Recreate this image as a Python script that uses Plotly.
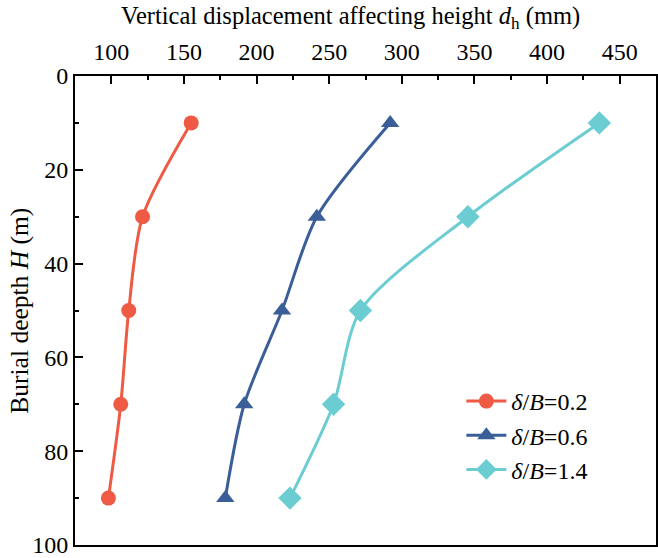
import plotly.graph_objects as go

depth = [10, 30, 50, 70, 90]
series_names = ["<i>δ</i>/<i>B</i>=0.2", "<i>δ</i>/<i>B</i>=0.6", "<i>δ</i>/<i>B</i>=1.4"]
d_02 = [155, 121.5, 112, 106.5, 98]
d_06 = [292, 241.5, 217.5, 191.5, 178.5]
d_14 = [436, 345.5, 271.5, 253, 223]
colors = ["#ee5a43", "#3a5e97", "#6bcdd2"]
symbols = ["circle", "triangle-up", "diamond"]
sizes = [15, 16, 18]

fig = go.Figure()
for name, xs, c, s, sz in zip(series_names, [d_02, d_06, d_14], colors, symbols, sizes):
    fig.add_trace(go.Scatter(
        x=xs, y=depth, name=name, mode="lines+markers",
        line=dict(color=c, width=3, shape="spline", smoothing=0.8),
        marker=dict(symbol=s, size=sz, color=c),
    ))

font = "Liberation Serif, Times New Roman, serif"
fig.update_layout(
    width=658, height=558,
    margin=dict(l=75, r=0, t=76, b=12),
    plot_bgcolor="white", paper_bgcolor="white",
    font=dict(family=font, size=24, color="black"),
    showlegend=True,
    legend=dict(x=0.665, y=0.354, xanchor="left", yanchor="top",
                bgcolor="rgba(0,0,0,0)", font=dict(size=24), tracegroupgap=0,
                itemwidth=40),
    xaxis=dict(
        side="top", range=[75, 475], tickvals=[100, 150, 200, 250, 300, 350, 400, 450],
        ticks="inside", ticklen=8, tickwidth=2, tickcolor="black",
        showline=True, linecolor="black", linewidth=2, mirror=True,
        showgrid=False, zeroline=False, ticklabelstandoff=4, ticklabeloverflow="allow",
        minor=dict(ticks="inside", ticklen=4, tickwidth=2, tickcolor="black", dtick=25, tick0=75, showgrid=False),
        tickfont=dict(size=24),
    ),
    yaxis=dict(
        range=[100, 0], tickvals=[0, 20, 40, 60, 80, 100],
        ticks="inside", ticklen=8, tickwidth=2, tickcolor="black",
        showline=True, linecolor="black", linewidth=2, mirror=True,
        showgrid=False, zeroline=False, ticklabeloverflow="allow",
        minor=dict(ticks="inside", ticklen=4, tickwidth=2, tickcolor="black", dtick=10, tick0=0, showgrid=False),
        tickfont=dict(size=24),
    ),
    annotations=[
        dict(
            text="Vertical displacement affecting height <i>d</i><sub>h</sub> (mm)",
            xref="paper", yref="paper", x=0.475, y=1.125, xanchor="center", yanchor="middle",
            showarrow=False, font=dict(size=24.5),
        ),
        dict(
            text="Burial deepth <i>H</i> (m)", textangle=-90,
            xref="paper", yref="paper", x=-0.096, y=0.5, xanchor="center", yanchor="middle",
            showarrow=False, font=dict(size=25.5),
        ),
    ],
)
fig.write_html("out.html")
